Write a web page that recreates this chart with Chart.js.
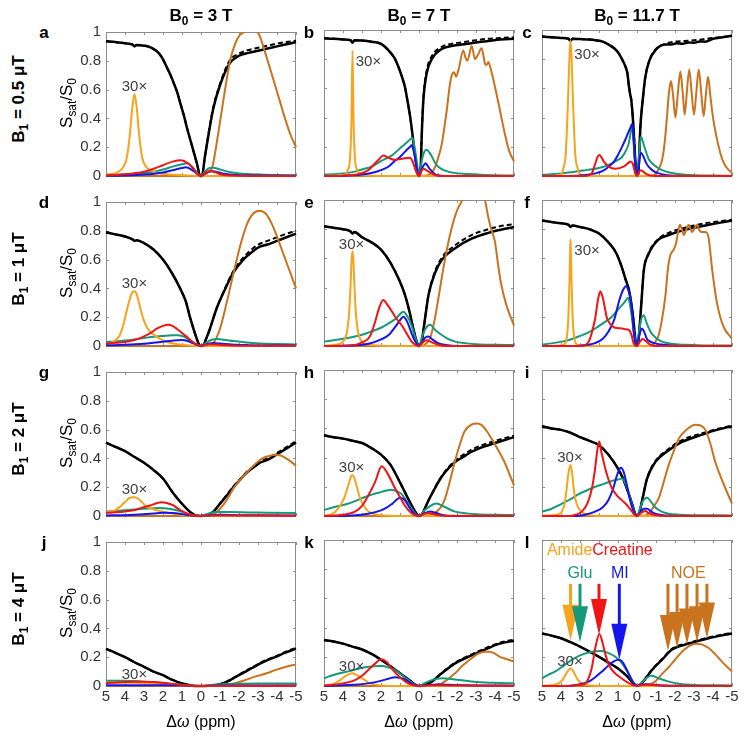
<!DOCTYPE html>
<html>
<head>
<meta charset="utf-8">
<script src="https://cdn.jsdelivr.net/npm/chart.js@4"></script>
<style>
body { margin: 0; background: #fff; width: 745px; height: 738px; position: relative; overflow: hidden;
       font-family: "Liberation Sans", Arial, Helvetica, sans-serif; }
canvas { position: absolute; }
.t { position: absolute; white-space: nowrap; color: #000; line-height: 1; }
.c { transform: translate(-50%, -50%); }
.r { transform: translate(-50%, -50%) rotate(-90deg); }
.b { font-weight: bold; }
sub { font-size: 70%; vertical-align: -0.35em; line-height: 0; }
</style>
</head>
<body>
<script>
// ---- data: [offset ppm, Ssat/S0] ----
// row 1 : B1 = 0.5 uT
const aZ = [[5,0.936],[4.5,0.93],[4,0.922],[3.6,0.912],[3.5,0.9],[3.4,0.91],[3,0.905],[2.6,0.89],[2.2,0.85],[2,0.81],[1.8,0.755],[1.6,0.7],[1.45,0.65],[1.25,0.58],[1.1,0.51],[0.9,0.42],[0.75,0.34],[0.55,0.245],[0.4,0.175],[0.2,0.08],[0.05,0],[-0.05,0],[-0.2,0.13],[-0.4,0.29],[-0.65,0.47],[-1,0.63],[-1.5,0.78],[-2,0.835],[-2.5,0.855],[-3,0.87],[-3.5,0.885],[-4,0.9],[-4.5,0.915],[-5,0.93]];
const aD = [[5,0.936],[4.5,0.93],[4,0.922],[3.6,0.912],[3.5,0.9],[3.4,0.91],[3,0.905],[2.6,0.89],[2.2,0.85],[2,0.81],[1.8,0.755],[1.6,0.7],[1.45,0.65],[1.25,0.58],[1.1,0.51],[0.9,0.42],[0.75,0.34],[0.55,0.245],[0.4,0.175],[0.2,0.08],[0.05,0],[-0.05,0],[-0.2,0.13],[-0.4,0.3],[-0.65,0.48],[-1,0.64],[-1.5,0.8],[-2,0.85],[-2.5,0.875],[-3,0.89],[-3.5,0.905],[-4,0.92],[-4.5,0.93],[-5,0.94]];
const aAmide = [[5,0.01],[4.5,0.02],[4.1,0.06],[3.9,0.13],[3.75,0.28],[3.62,0.47],[3.5,0.57],[3.38,0.47],[3.25,0.28],[3.1,0.13],[2.86,0.06],[2.5,0.03],[2,0.015],[1,0.005],[0,0],[-5,0]];
const aGlu = [[5,0.008],[4,0.012],[3,0.02],[2.5,0.03],[2,0.045],[1.5,0.065],[1,0.082],[0.75,0.088],[0.5,0.07],[0.25,0.03],[0,0],[-0.2,0.03],[-0.45,0.055],[-0.65,0.057],[-1,0.045],[-1.5,0.028],[-2,0.018],[-3,0.01],[-4,0.007],[-5,0.005]];
const aCr = [[5,0.005],[4,0.012],[3,0.03],[2.5,0.05],[2,0.075],[1.5,0.1],[1.05,0.11],[0.7,0.09],[0.4,0.05],[0.2,0.015],[0,0],[-0.2,0.02],[-0.45,0.035],[-0.7,0.03],[-1,0.012],[-1.5,0.004],[-5,0]];
const aMI = [[5,0.002],[4,0.004],[3,0.01],[2,0.025],[1.5,0.04],[1,0.055],[0.8,0.06],[0.5,0.045],[0.25,0.02],[0,0],[-0.25,0.02],[-0.55,0.033],[-0.8,0.03],[-1.2,0.015],[-2,0.006],[-3,0.003],[-5,0.001]];
const aNOE = [[5,0],[0,0],[-0.2,0.01],[-0.4,0.03],[-0.6,0.065],[-0.9,0.29],[-1.17,0.52],[-1.53,0.8],[-1.8,0.92],[-2.05,0.98],[-2.3,1.0],[-2.6,1.02],[-2.9,1.01],[-3.1,0.97],[-3.37,0.86],[-3.65,0.74],[-3.9,0.63],[-4.15,0.52],[-4.42,0.4],[-4.7,0.29],[-5,0.2]];

const bZ = [[5,0.943],[4.5,0.94],[4,0.935],[3.6,0.93],[3.5,0.912],[3.4,0.93],[3,0.928],[2.5,0.92],[2,0.905],[1.6,0.86],[1.3,0.81],[1.09,0.75],[0.9,0.68],[0.74,0.61],[0.6,0.51],[0.47,0.41],[0.35,0.29],[0.25,0.18],[0.12,0.06],[0.03,0],[-0.03,0],[-0.09,0.06],[-0.15,0.3],[-0.23,0.52],[-0.4,0.7],[-0.67,0.8],[-1.2,0.87],[-1.7,0.89],[-2.25,0.9],[-3,0.915],[-3.65,0.925],[-4.3,0.935],[-5,0.94]];
const bD = [[5,0.943],[4.5,0.94],[4,0.935],[3.6,0.93],[3.5,0.912],[3.4,0.93],[3,0.928],[2.5,0.92],[2,0.905],[1.6,0.86],[1.3,0.81],[1.09,0.75],[0.9,0.68],[0.74,0.61],[0.6,0.51],[0.47,0.41],[0.35,0.29],[0.25,0.18],[0.12,0.06],[0.03,0],[-0.03,0],[-0.09,0.06],[-0.15,0.3],[-0.23,0.53],[-0.4,0.72],[-0.67,0.82],[-1.2,0.885],[-1.7,0.905],[-2.25,0.915],[-3,0.93],[-3.65,0.94],[-4.3,0.945],[-5,0.95]];
const bAmide = [[5,0],[4.2,0.004],[3.9,0.01],[3.75,0.04],[3.63,0.12],[3.56,0.35],[3.5,0.86],[3.44,0.35],[3.37,0.12],[3.25,0.04],[3.1,0.01],[2.8,0.004],[2,0],[-5,0]];
const bGlu = [[5,0.01],[4.5,0.012],[4,0.018],[3.37,0.03],[3,0.045],[2.5,0.064],[1.96,0.105],[1.44,0.14],[0.91,0.2],[0.6,0.235],[0.47,0.25],[0.35,0.26],[0.21,0.18],[0.1,0.08],[0.04,0.02],[0,0],[-0.06,0.03],[-0.14,0.1],[-0.26,0.16],[-0.4,0.18],[-0.58,0.155],[-0.93,0.075],[-1.54,0.03],[-2.6,0.014],[-3.5,0.007],[-5,0.003]];
const bCr = [[5,0],[4,0.002],[3.37,0.008],[2.67,0.04],[2.4,0.075],[2.14,0.11],[1.87,0.14],[1.61,0.125],[1.26,0.11],[0.82,0.12],[0.47,0.125],[0.3,0.087],[0.15,0.03],[0,0],[-0.12,0.03],[-0.23,0.05],[-0.5,0.03],[-0.84,0.007],[-1.2,0],[-5,0]];
const bMI = [[5,0],[4.2,0],[3.8,0.003],[3,0.01],[2.5,0.02],[2,0.04],[1.6,0.065],[1.26,0.105],[1,0.13],[0.82,0.155],[0.6,0.185],[0.47,0.2],[0.39,0.21],[0.3,0.18],[0.21,0.13],[0.1,0.04],[0,0],[-0.12,0.04],[-0.23,0.07],[-0.35,0.087],[-0.45,0.07],[-0.58,0.046],[-0.93,0.007],[-1.5,0],[-5,0]];
const bNOE = [[5,0],[0,0],[-0.4,0.003],[-0.65,0.02],[-0.84,0.06],[-1.0,0.12],[-1.2,0.22],[-1.46,0.45],[-1.63,0.63],[-1.75,0.7],[-1.85,0.71],[-1.95,0.68],[-2.1,0.74],[-2.33,0.86],[-2.45,0.81],[-2.55,0.79],[-2.77,0.89],[-2.95,0.8],[-3.1,0.83],[-3.3,0.875],[-3.47,0.77],[-3.55,0.76],[-3.65,0.78],[-3.8,0.72],[-4.0,0.61],[-4.26,0.45],[-4.5,0.3],[-4.75,0.17],[-5,0.1]];

const cZ = [[5,0.955],[4.5,0.95],[4,0.945],[3.6,0.94],[3.5,0.925],[3.4,0.94],[3,0.938],[2.5,0.935],[2.19,0.93],[1.8,0.92],[1.49,0.9],[1.2,0.875],[0.96,0.84],[0.75,0.79],[0.61,0.75],[0.5,0.7],[0.44,0.63],[0.36,0.56],[0.3,0.52],[0.21,0.38],[0.12,0.18],[0.04,0.007],[0,0],[-0.05,0.005],[-0.09,0.06],[-0.18,0.34],[-0.3,0.52],[-0.44,0.68],[-0.65,0.79],[-0.96,0.86],[-1.49,0.9],[-1.8,0.9],[-2.1,0.91],[-2.4,0.905],[-2.7,0.915],[-3.0,0.912],[-3.3,0.922],[-3.6,0.92],[-4,0.94],[-4.5,0.95],[-5,0.96]];
const cD = [[5,0.955],[4.5,0.95],[4,0.945],[3.6,0.94],[3.5,0.925],[3.4,0.94],[3,0.938],[2.5,0.935],[2.19,0.93],[1.8,0.92],[1.49,0.9],[1.2,0.875],[0.96,0.84],[0.75,0.79],[0.61,0.75],[0.5,0.7],[0.44,0.63],[0.36,0.56],[0.3,0.52],[0.21,0.38],[0.12,0.18],[0.04,0.007],[0,0],[-0.05,0.005],[-0.09,0.06],[-0.18,0.34],[-0.3,0.52],[-0.44,0.68],[-0.65,0.79],[-0.96,0.865],[-1.49,0.905],[-2,0.92],[-2.5,0.925],[-3,0.93],[-3.5,0.937],[-4,0.945],[-4.5,0.952],[-5,0.96]];
const cAmide = [[5,0],[4.2,0.002],[3.95,0.02],[3.86,0.06],[3.75,0.15],[3.63,0.52],[3.56,0.8],[3.5,0.93],[3.44,0.8],[3.37,0.52],[3.25,0.15],[3.14,0.06],[3.05,0.02],[2.8,0.002],[2.5,0],[-5,0]];
const cGlu = [[5,0.007],[4.5,0.012],[3.95,0.018],[3.5,0.025],[3.07,0.034],[2.6,0.042],[2.19,0.05],[1.8,0.062],[1.32,0.087],[1,0.11],[0.79,0.13],[0.6,0.17],[0.44,0.22],[0.33,0.3],[0.26,0.35],[0.2,0.28],[0.09,0.064],[0,0],[-0.07,0.08],[-0.14,0.2],[-0.21,0.27],[-0.3,0.24],[-0.44,0.18],[-0.6,0.12],[-0.79,0.087],[-1.05,0.06],[-1.32,0.04],[-1.7,0.024],[-2.19,0.014],[-3,0.006],[-4,0.003],[-5,0.002]];
const cCr = [[5,0],[2.8,0],[2.5,0.008],[2.37,0.02],[2.19,0.087],[2.08,0.13],[1.98,0.144],[1.86,0.125],[1.75,0.1],[1.49,0.064],[1.14,0.05],[0.7,0.064],[0.45,0.09],[0.35,0.1],[0.23,0.087],[0.09,0.018],[0,0],[-0.1,0.025],[-0.21,0.04],[-0.32,0.03],[-0.44,0.018],[-0.7,0.003],[-1,0],[-5,0]];
const cMI = [[5,0],[3.8,0],[3.25,0.002],[2.6,0.008],[2.19,0.018],[1.8,0.035],[1.49,0.064],[1.2,0.1],[0.96,0.155],[0.75,0.21],[0.61,0.25],[0.45,0.3],[0.35,0.33],[0.26,0.356],[0.18,0.25],[0.09,0.064],[0,0],[-0.09,0.064],[-0.15,0.13],[-0.21,0.16],[-0.35,0.13],[-0.48,0.09],[-0.61,0.064],[-0.85,0.035],[-1.14,0.018],[-1.6,0.005],[-2.2,0],[-5,0]];
const cNOE = [[5,0],[0,0],[-0.7,0],[-0.93,0.01],[-1.15,0.05],[-1.32,0.11],[-1.45,0.22],[-1.58,0.41],[-1.68,0.57],[-1.79,0.65],[-1.9,0.55],[-2.02,0.4],[-2.14,0.55],[-2.28,0.715],[-2.4,0.58],[-2.51,0.42],[-2.62,0.57],[-2.75,0.73],[-2.87,0.58],[-3.0,0.42],[-3.12,0.57],[-3.25,0.73],[-3.38,0.57],[-3.51,0.41],[-3.62,0.55],[-3.74,0.68],[-3.86,0.55],[-4.0,0.4],[-4.15,0.29],[-4.3,0.2],[-4.5,0.11],[-4.7,0.06],[-5,0.02]];

// row 2 : B1 = 1 uT
const dZ = [[5,0.79],[4.5,0.775],[4,0.76],[3.6,0.74],[3.5,0.73],[3.4,0.735],[3,0.715],[2.5,0.67],[2,0.6],[1.5,0.5],[1.1,0.4],[0.8,0.31],[0.58,0.2],[0.3,0.08],[0.08,0.005],[0,0],[-0.12,0.005],[-0.3,0.06],[-0.47,0.12],[-0.82,0.26],[-1.18,0.37],[-1.7,0.51],[-2.23,0.6],[-2.75,0.66],[-3.1,0.69],[-3.5,0.705],[-3.9,0.725],[-4.4,0.75],[-5,0.78]];
const dD = [[5,0.79],[4.5,0.775],[4,0.76],[3.6,0.74],[3.5,0.73],[3.4,0.735],[3,0.715],[2.5,0.67],[2,0.6],[1.5,0.5],[1.1,0.4],[0.8,0.31],[0.58,0.2],[0.3,0.08],[0.08,0.005],[0,0],[-0.12,0.005],[-0.3,0.06],[-0.47,0.12],[-0.82,0.26],[-1.18,0.375],[-1.7,0.52],[-2.23,0.615],[-2.75,0.68],[-3.1,0.71],[-3.5,0.73],[-3.9,0.75],[-4.4,0.775],[-5,0.8]];
const dAmide = [[5,0.01],[4.6,0.03],[4.3,0.07],[4.1,0.14],[3.9,0.25],[3.74,0.33],[3.6,0.375],[3.5,0.38],[3.4,0.365],[3.3,0.32],[3.15,0.24],[3.04,0.19],[2.85,0.13],[2.68,0.1],[2.4,0.07],[2.16,0.05],[1.8,0.03],[1.46,0.018],[1,0.008],[0.5,0.002],[0,0],[-5,0]];
const dGlu = [[5,0.028],[4.5,0.032],[4,0.038],[3.5,0.046],[3,0.055],[2.5,0.064],[2,0.07],[1.5,0.075],[1.2,0.074],[0.9,0.065],[0.58,0.04],[0.3,0.015],[0,0],[-0.3,0.025],[-0.6,0.045],[-0.82,0.048],[-1.2,0.043],[-1.7,0.034],[-2.4,0.024],[-3.1,0.018],[-4,0.014],[-5,0.011]];
const dCr = [[5,0.018],[4.5,0.022],[4,0.028],[3.56,0.04],[3.2,0.055],[2.86,0.075],[2.6,0.095],[2.33,0.12],[2,0.14],[1.72,0.148],[1.5,0.14],[1.28,0.12],[1,0.09],[0.75,0.064],[0.5,0.035],[0.32,0.018],[0,0],[-0.4,0.012],[-0.8,0.01],[-1.5,0.004],[-5,0.001]];
const dMI = [[5,0.005],[4,0.008],[3,0.015],[2.5,0.022],[2,0.03],[1.5,0.037],[1,0.041],[0.7,0.035],[0.4,0.018],[0,0],[-0.3,0.012],[-0.65,0.02],[-1,0.017],[-1.6,0.01],[-2.5,0.006],[-5,0.003]];
const dNOE = [[5,0],[0,0],[-0.3,0.002],[-0.65,0.02],[-1.0,0.12],[-1.35,0.3],[-1.7,0.5],[-2.05,0.69],[-2.4,0.84],[-2.75,0.92],[-3.1,0.94],[-3.4,0.92],[-3.72,0.85],[-4.0,0.76],[-4.25,0.67],[-4.5,0.58],[-4.78,0.48],[-5,0.4]];

const eZ = [[5,0.82],[4.5,0.81],[4,0.8],[3.6,0.785],[3.5,0.77],[3.4,0.78],[3,0.745],[2.5,0.71],[2,0.66],[1.5,0.57],[1,0.44],[0.74,0.35],[0.5,0.235],[0.3,0.12],[0.12,0.03],[0,0],[-0.05,0.002],[-0.14,0.03],[-0.32,0.19],[-0.5,0.35],[-0.84,0.5],[-1.2,0.59],[-1.9,0.67],[-2.77,0.735],[-3.65,0.775],[-4.26,0.795],[-5,0.815]];
const eD = [[5,0.82],[4.5,0.81],[4,0.8],[3.6,0.785],[3.5,0.77],[3.4,0.78],[3,0.745],[2.5,0.71],[2,0.66],[1.5,0.57],[1,0.44],[0.74,0.35],[0.5,0.235],[0.3,0.12],[0.12,0.03],[0,0],[-0.05,0.002],[-0.14,0.03],[-0.32,0.19],[-0.5,0.35],[-0.84,0.51],[-1.2,0.605],[-1.9,0.69],[-2.77,0.76],[-3.65,0.8],[-4.26,0.82],[-5,0.835]];
const eAmide = [[5,0.002],[4.4,0.008],[4.0,0.03],[3.8,0.09],[3.68,0.22],[3.6,0.42],[3.55,0.58],[3.5,0.65],[3.45,0.58],[3.4,0.42],[3.32,0.22],[3.2,0.09],[3.0,0.03],[2.6,0.008],[2,0.002],[0,0],[-5,0]];
const eGlu = [[5,0.03],[4.5,0.04],[4,0.05],[3.37,0.065],[3,0.077],[2.5,0.1],[2,0.125],[1.6,0.155],[1.2,0.19],[0.95,0.225],[0.82,0.235],[0.6,0.2],[0.39,0.14],[0.2,0.06],[0,0],[-0.15,0.06],[-0.35,0.12],[-0.58,0.145],[-0.85,0.11],[-1.2,0.075],[-1.5,0.05],[-1.9,0.03],[-2.5,0.018],[-3,0.012],[-4,0.008],[-5,0.006]];
const eCr = [[5,0],[4,0.002],[3.37,0.007],[3,0.025],[2.67,0.05],[2.5,0.09],[2.3,0.17],[2.1,0.26],[1.88,0.315],[1.65,0.28],[1.44,0.24],[1.2,0.19],[0.9,0.14],[0.6,0.075],[0.39,0.03],[0.15,0.005],[0,0],[-0.2,0.025],[-0.4,0.04],[-0.6,0.03],[-1,0.008],[-1.5,0],[-5,0]];
const eMI = [[5,0],[4,0.001],[3,0.008],[2.5,0.02],[2,0.045],[1.6,0.075],[1.2,0.14],[0.95,0.185],[0.82,0.2],[0.6,0.16],[0.39,0.087],[0.2,0.03],[0,0],[-0.2,0.035],[-0.35,0.06],[-0.5,0.065],[-0.7,0.045],[-1,0.02],[-1.5,0.005],[-2,0],[-5,0]];
const eNOE = [[5,0],[0,0],[-0.15,0.001],[-0.4,0.02],[-0.6,0.06],[-0.84,0.19],[-1.05,0.35],[-1.28,0.53],[-1.63,0.76],[-1.98,0.92],[-2.33,1.01],[-2.7,1.08],[-3.0,1.1],[-3.3,1.05],[-3.47,1.0],[-3.65,0.88],[-3.8,0.8],[-3.99,0.72],[-4.15,0.57],[-4.3,0.44],[-4.6,0.28],[-5,0.14]];

const fZ = [[5,0.86],[4.5,0.85],[4,0.84],[3.6,0.83],[3.5,0.815],[3.4,0.825],[3,0.815],[2.5,0.8],[2,0.77],[1.5,0.71],[1.2,0.66],[1,0.61],[0.8,0.54],[0.61,0.46],[0.4,0.37],[0.2,0.19],[0.09,0.05],[0,0],[-0.05,0.01],[-0.12,0.1],[-0.26,0.35],[-0.35,0.51],[-0.61,0.63],[-1.14,0.73],[-1.67,0.76],[-2.37,0.79],[-3,0.81],[-3.77,0.83],[-4.4,0.845],[-5,0.86]];
const fD = [[5,0.86],[4.5,0.85],[4,0.84],[3.6,0.83],[3.5,0.815],[3.4,0.825],[3,0.815],[2.5,0.8],[2,0.77],[1.5,0.71],[1.2,0.66],[1,0.61],[0.8,0.54],[0.61,0.46],[0.4,0.37],[0.2,0.19],[0.09,0.05],[0,0],[-0.05,0.01],[-0.12,0.1],[-0.26,0.35],[-0.35,0.51],[-0.61,0.635],[-1.14,0.735],[-1.67,0.775],[-2.37,0.805],[-3,0.825],[-3.77,0.845],[-4.4,0.855],[-5,0.865]];
const fAmide = [[5,0],[4.2,0.002],[3.85,0.01],[3.72,0.04],[3.62,0.18],[3.56,0.42],[3.52,0.65],[3.5,0.73],[3.48,0.65],[3.44,0.42],[3.38,0.18],[3.28,0.04],[3.15,0.01],[2.8,0.002],[2,0],[-5,0]];
const fGlu = [[5,0.01],[4.5,0.018],[3.95,0.03],[3.5,0.045],[3.07,0.065],[2.6,0.09],[2.2,0.12],[1.8,0.155],[1.32,0.2],[1,0.25],[0.79,0.28],[0.6,0.31],[0.47,0.33],[0.35,0.27],[0.2,0.13],[0.08,0.03],[0,0],[-0.1,0.09],[-0.2,0.17],[-0.35,0.21],[-0.5,0.16],[-0.7,0.1],[-1,0.055],[-1.32,0.03],[-1.8,0.015],[-2.5,0.008],[-3.5,0.004],[-5,0.003]];
const fCr = [[5,0],[3,0],[2.7,0.008],[2.54,0.03],[2.38,0.09],[2.2,0.19],[2.05,0.32],[1.93,0.375],[1.8,0.33],[1.66,0.24],[1.58,0.19],[1.4,0.15],[1.23,0.13],[1.0,0.122],[0.79,0.12],[0.6,0.115],[0.44,0.11],[0.3,0.08],[0.18,0.02],[0,0],[-0.15,0.03],[-0.3,0.048],[-0.45,0.035],[-0.7,0.01],[-1,0],[-5,0]];
const fMI = [[5,0],[3.2,0],[2.6,0.008],[2.2,0.02],[1.8,0.05],[1.5,0.1],[1.2,0.18],[0.96,0.3],[0.75,0.38],[0.58,0.41],[0.45,0.38],[0.35,0.33],[0.25,0.22],[0.18,0.1],[0.08,0.02],[0,0],[-0.1,0.06],[-0.18,0.1],[-0.26,0.12],[-0.4,0.09],[-0.52,0.05],[-0.7,0.03],[-0.96,0.018],[-1.4,0.008],[-2,0.002],[-2.2,0],[-5,0]];
const fNOE = [[5,0],[0,0],[-0.6,0],[-0.79,0.005],[-0.95,0.025],[-1.14,0.075],[-1.3,0.17],[-1.5,0.35],[-1.62,0.52],[-1.75,0.62],[-1.85,0.645],[-1.93,0.66],[-2.05,0.7],[-2.15,0.77],[-2.25,0.83],[-2.36,0.8],[-2.46,0.76],[-2.6,0.8],[-2.72,0.83],[-2.82,0.8],[-2.9,0.78],[-3.05,0.81],[-3.16,0.83],[-3.3,0.79],[-3.42,0.78],[-3.6,0.78],[-3.77,0.74],[-3.95,0.53],[-4.2,0.3],[-4.4,0.19],[-4.6,0.12],[-5,0.05]];

// row 3 : B1 = 2 uT
const gZ = [[5,0.51],[4.5,0.48],[4,0.45],[3.5,0.41],[3,0.37],[2.5,0.32],[2,0.26],[1.5,0.165],[1,0.085],[0.5,0.02],[0.25,0.003],[0,0],[-0.2,0.003],[-0.4,0.012],[-0.65,0.03],[-1,0.085],[-1.35,0.14],[-1.7,0.2],[-2.05,0.25],[-2.4,0.3],[-2.84,0.345],[-3.1,0.37],[-3.5,0.39],[-3.9,0.42],[-4.4,0.46],[-5,0.51]];
const gD = [[5,0.51],[4.5,0.48],[4,0.45],[3.5,0.41],[3,0.37],[2.5,0.32],[2,0.26],[1.5,0.165],[1,0.085],[0.5,0.02],[0.25,0.003],[0,0],[-0.2,0.003],[-0.4,0.012],[-0.65,0.03],[-1,0.087],[-1.35,0.145],[-1.7,0.205],[-2.05,0.255],[-2.4,0.305],[-2.84,0.35],[-3.1,0.375],[-3.5,0.4],[-3.9,0.43],[-4.4,0.47],[-5,0.52]];
const gAmide = [[5,0.025],[4.6,0.035],[4.3,0.06],[4.1,0.085],[3.9,0.11],[3.7,0.128],[3.5,0.13],[3.3,0.12],[3.1,0.095],[2.86,0.065],[2.5,0.048],[2.33,0.04],[2,0.03],[1.45,0.015],[1,0.007],[0.5,0.002],[0,0],[-5,0]];
const gGlu = [[5,0.03],[4.5,0.035],[4,0.04],[3.5,0.045],[3.03,0.05],[2.5,0.054],[2.16,0.055],[1.8,0.052],[1.28,0.04],[0.9,0.025],[0.5,0.008],[0,0],[-0.3,0.012],[-0.8,0.027],[-1.5,0.027],[-2.5,0.025],[-3.5,0.023],[-5,0.02]];
const gCr = [[5,0.022],[4.5,0.026],[4,0.032],[3.56,0.04],[3.1,0.058],[2.68,0.073],[2.3,0.09],[2.07,0.096],[1.8,0.09],[1.45,0.073],[1.2,0.05],[0.93,0.03],[0.6,0.01],[0.3,0.002],[0,0],[-0.5,0.004],[-1,0.004],[-5,0.002]];
const gMI = [[5,0.004],[4,0.006],[3,0.012],[2.5,0.017],[2,0.022],[1.5,0.02],[1,0.013],[0.5,0.004],[0,0],[-0.5,0.006],[-1,0.008],[-2,0.006],[-3,0.005],[-5,0.004]];
const gNOE = [[5,0],[0.3,0],[0,0],[-0.4,0.002],[-0.7,0.015],[-1.0,0.05],[-1.35,0.11],[-1.7,0.19],[-2.05,0.25],[-2.4,0.3],[-2.84,0.36],[-3.3,0.405],[-3.7,0.42],[-3.9,0.425],[-4.2,0.42],[-4.6,0.39],[-5,0.35]];

const hZ = [[5,0.553],[4.5,0.54],[4,0.53],[3.5,0.515],[3,0.5],[2.5,0.465],[2,0.42],[1.5,0.35],[1,0.23],[0.75,0.165],[0.5,0.1],[0.25,0.04],[0.05,0.002],[0,0],[-0.1,0.002],[-0.3,0.05],[-0.55,0.12],[-0.84,0.19],[-1.1,0.25],[-1.37,0.3],[-1.9,0.37],[-2.4,0.41],[-2.77,0.44],[-3.2,0.465],[-3.65,0.485],[-4.26,0.51],[-5,0.54]];
const hD = [[5,0.553],[4.5,0.54],[4,0.53],[3.5,0.515],[3,0.5],[2.5,0.465],[2,0.42],[1.5,0.35],[1,0.23],[0.75,0.165],[0.5,0.1],[0.25,0.04],[0.05,0.002],[0,0],[-0.1,0.002],[-0.3,0.05],[-0.55,0.12],[-0.84,0.195],[-1.1,0.255],[-1.37,0.305],[-1.9,0.38],[-2.4,0.425],[-2.77,0.455],[-3.2,0.48],[-3.65,0.5],[-4.26,0.525],[-5,0.55]];
const hAmide = [[5,0.003],[4.7,0.008],[4.42,0.027],[4.1,0.08],[3.89,0.14],[3.7,0.22],[3.58,0.27],[3.5,0.28],[3.4,0.26],[3.25,0.19],[3.1,0.12],[2.9,0.07],[2.74,0.04],[2.4,0.015],[2,0.005],[1,0],[-5,0]];
const hGlu = [[5,0.04],[4.5,0.06],[4,0.075],[3.72,0.085],[3.3,0.105],[2.84,0.13],[2.4,0.15],[1.96,0.165],[1.7,0.175],[1.44,0.18],[1.2,0.17],[0.91,0.15],[0.65,0.1],[0.39,0.05],[0.15,0.01],[0,0],[-0.3,0.04],[-0.6,0.07],[-0.93,0.085],[-1.3,0.065],[-1.9,0.03],[-2.5,0.018],[-3,0.012],[-4,0.008],[-5,0.006]];
const hCr = [[5,0],[4.5,0.003],[4,0.008],[3.37,0.03],[3,0.07],[2.67,0.14],[2.32,0.23],[1.96,0.34],[1.61,0.28],[1.26,0.19],[1,0.13],[0.74,0.07],[0.45,0.025],[0.2,0.005],[0,0],[-0.3,0.015],[-0.55,0.02],[-0.9,0.008],[-1.3,0.002],[-5,0]];
const hMI = [[5,0],[4.5,0],[3.5,0.004],[2.67,0.016],[2.2,0.03],[1.8,0.05],[1.4,0.085],[1.0,0.125],[0.75,0.11],[0.47,0.05],[0.2,0.01],[0,0],[-0.3,0.02],[-0.6,0.03],[-0.9,0.02],[-1.3,0.006],[-1.8,0],[-5,0]];
const hNOE = [[5,0],[0,0],[-0.5,0.003],[-0.93,0.03],[-1.2,0.07],[-1.37,0.12],[-1.65,0.25],[-1.9,0.38],[-2.15,0.49],[-2.4,0.58],[-2.75,0.625],[-3.1,0.633],[-3.4,0.61],[-3.65,0.565],[-4.0,0.49],[-4.26,0.43],[-4.5,0.37],[-4.75,0.29],[-5,0.21]];

const iZ = [[5,0.615],[4.5,0.6],[4,0.59],[3.5,0.57],[3,0.54],[2.5,0.515],[2,0.485],[1.5,0.42],[1,0.325],[0.75,0.26],[0.5,0.176],[0.25,0.08],[0.08,0.01],[0,0],[-0.1,0.01],[-0.26,0.1],[-0.53,0.256],[-0.96,0.37],[-1.67,0.45],[-2.37,0.507],[-3.42,0.557],[-4.2,0.59],[-5,0.615]];
const iD = [[5,0.615],[4.5,0.6],[4,0.59],[3.5,0.57],[3,0.54],[2.5,0.515],[2,0.485],[1.5,0.42],[1,0.325],[0.75,0.26],[0.5,0.176],[0.25,0.08],[0.08,0.01],[0,0],[-0.1,0.01],[-0.26,0.1],[-0.53,0.26],[-0.96,0.375],[-1.67,0.46],[-2.37,0.52],[-3.42,0.567],[-4.2,0.595],[-5,0.62]];
const iAmide = [[5,0.002],[4.4,0.006],[4.1,0.015],[3.95,0.03],[3.8,0.09],[3.7,0.19],[3.6,0.3],[3.5,0.35],[3.42,0.3],[3.33,0.19],[3.25,0.12],[3.1,0.06],[2.9,0.025],[2.6,0.008],[2.2,0.002],[1.5,0],[-5,0]];
const iGlu = [[5,0.03],[4.5,0.05],[3.95,0.085],[3.5,0.115],[3.07,0.15],[2.6,0.178],[2.2,0.2],[1.75,0.22],[1.32,0.24],[1.0,0.25],[0.79,0.256],[0.6,0.22],[0.44,0.16],[0.25,0.07],[0.1,0.015],[0,0],[-0.15,0.05],[-0.3,0.1],[-0.53,0.125],[-0.75,0.095],[-0.96,0.06],[-1.3,0.03],[-1.67,0.016],[-2.5,0.007],[-5,0.004]];
const iCr = [[5,0],[3.5,0],[3.2,0.01],[2.9,0.03],[2.6,0.09],[2.37,0.19],[2.2,0.33],[2.08,0.46],[1.98,0.51],[1.88,0.44],[1.77,0.38],[1.67,0.325],[1.5,0.25],[1.32,0.19],[1.05,0.14],[0.79,0.107],[0.5,0.07],[0.26,0.03],[0.1,0.005],[0,0],[-0.2,0.02],[-0.44,0.035],[-0.6,0.02],[-1,0.005],[-1.5,0],[-5,0]];
const iMI = [[5,0],[3.2,0],[2.7,0.01],[2.2,0.03],[1.8,0.06],[1.5,0.11],[1.25,0.19],[1.05,0.28],[0.9,0.325],[0.84,0.33],[0.7,0.3],[0.53,0.21],[0.4,0.13],[0.26,0.06],[0.1,0.01],[0,0],[-0.2,0.03],[-0.38,0.05],[-0.53,0.05],[-0.75,0.03],[-1.0,0.014],[-1.5,0.003],[-2,0],[-5,0]];
const iNOE = [[5,0],[0,0],[-0.44,0.003],[-0.7,0.03],[-0.9,0.07],[-1.14,0.12],[-1.4,0.23],[-1.67,0.35],[-1.95,0.45],[-2.2,0.53],[-2.6,0.59],[-3.07,0.625],[-3.35,0.62],[-3.6,0.59],[-3.85,0.5],[-4.12,0.37],[-4.4,0.27],[-4.65,0.19],[-5,0.085]];

// row 4 : B1 = 4 uT
const jZ = [[5,0.258],[4.5,0.23],[4,0.2],[3.5,0.165],[3,0.133],[2.5,0.1],[2,0.075],[1.5,0.042],[1,0.018],[0.5,0.004],[0.2,0],[-0.2,0],[-0.6,0.003],[-1,0.012],[-1.4,0.032],[-1.7,0.053],[-2.2,0.09],[-2.7,0.125],[-3.1,0.155],[-3.5,0.18],[-3.9,0.2],[-4.4,0.23],[-5,0.26]];
const jD = [[5,0.258],[4.5,0.23],[4,0.2],[3.5,0.165],[3,0.133],[2.5,0.1],[2,0.075],[1.5,0.042],[1,0.018],[0.5,0.004],[0.2,0],[-0.2,0],[-0.6,0.003],[-1,0.013],[-1.4,0.034],[-1.7,0.056],[-2.2,0.094],[-2.7,0.13],[-3.1,0.16],[-3.5,0.185],[-3.9,0.205],[-4.4,0.235],[-5,0.265]];
const jAmide = [[5,0.022],[4,0.023],[3.5,0.023],[3,0.02],[2.5,0.015],[2,0.01],[1.5,0.006],[1,0.003],[0.5,0.001],[0,0],[-5,0]];
const jGlu = [[5,0.037],[4,0.036],[3.5,0.034],[3,0.03],[2.5,0.025],[2,0.02],[1.5,0.014],[1,0.008],[0.5,0.003],[0,0],[-0.5,0.006],[-1,0.012],[-2,0.016],[-3,0.018],[-4,0.018],[-5,0.018]];
const jCr = [[5,0.02],[4.5,0.025],[4,0.028],[3.5,0.03],[3,0.03],[2.5,0.028],[2,0.022],[1.5,0.014],[1,0.007],[0.5,0.002],[0,0],[-5,0.001]];
const jMI = [[5,0.005],[3,0.006],[2,0.005],[1,0.003],[0,0],[-1,0.003],[-5,0.003]];
const jNOE = [[5,0],[0,0],[-0.5,0.001],[-1,0.005],[-1.7,0.015],[-2.3,0.04],[-2.84,0.065],[-3.1,0.075],[-3.5,0.09],[-3.9,0.11],[-4.4,0.13],[-5,0.15]];

const kZ = [[5,0.315],[4.5,0.305],[4,0.29],[3.5,0.27],[3,0.25],[2.5,0.22],[2,0.18],[1.5,0.135],[1,0.087],[0.5,0.04],[0.2,0.01],[0,0],[-0.3,0.005],[-0.67,0.03],[-1.2,0.087],[-1.9,0.155],[-2.77,0.21],[-3.65,0.26],[-4.26,0.29],[-5,0.31]];
const kD = [[5,0.315],[4.5,0.305],[4,0.29],[3.5,0.27],[3,0.25],[2.5,0.22],[2,0.18],[1.5,0.135],[1,0.087],[0.5,0.04],[0.2,0.01],[0,0],[-0.3,0.005],[-0.67,0.032],[-1.2,0.09],[-1.9,0.16],[-2.77,0.217],[-3.65,0.267],[-4.26,0.297],[-5,0.318]];
const kAmide = [[5,0.003],[4.7,0.007],[4.42,0.018],[4.1,0.045],[3.8,0.075],[3.5,0.087],[3.2,0.07],[2.84,0.04],[2.6,0.02],[2.2,0.007],[1.8,0.002],[1,0],[-5,0]];
const kGlu = [[5,0.053],[4.5,0.075],[4,0.092],[3.72,0.1],[3.3,0.115],[2.84,0.128],[2.4,0.135],[1.96,0.137],[1.6,0.127],[1.26,0.11],[0.9,0.075],[0.56,0.04],[0.25,0.012],[0,0],[-0.3,0.02],[-0.7,0.042],[-1.2,0.053],[-1.8,0.047],[-2.77,0.03],[-3.5,0.024],[-4.2,0.021],[-5,0.018]];
const kCr = [[5,0.004],[4.5,0.008],[4,0.018],[3.37,0.04],[3,0.07],[2.67,0.11],[2.3,0.155],[2.0,0.183],[1.7,0.165],[1.44,0.12],[1.2,0.085],[0.91,0.05],[0.6,0.02],[0.3,0.005],[0,0],[-0.5,0.004],[-1,0.005],[-2,0.003],[-5,0.001]];
const kMI = [[5,0],[4.5,0.001],[3.5,0.008],[2.67,0.018],[1.96,0.037],[1.6,0.05],[1.26,0.06],[1,0.057],[0.75,0.045],[0.56,0.03],[0.3,0.01],[0,0],[-0.4,0.006],[-1,0.01],[-2,0.006],[-3,0.004],[-5,0.002]];
const kNOE = [[5,0],[0,0],[-0.5,0.002],[-0.9,0.008],[-1.2,0.018],[-1.5,0.045],[-1.9,0.087],[-2.3,0.14],[-2.77,0.19],[-3.1,0.22],[-3.47,0.235],[-3.7,0.235],[-3.95,0.225],[-4.26,0.2],[-4.6,0.185],[-5,0.167]];

const lZ = [[5,0.36],[4.5,0.345],[4,0.327],[3.5,0.3],[3,0.27],[2.5,0.235],[2,0.2],[1.5,0.16],[1,0.12],[0.5,0.064],[0.2,0.02],[0,0],[-0.1,0.002],[-0.26,0.02],[-0.5,0.06],[-0.79,0.11],[-1.32,0.18],[-1.84,0.25],[-2.72,0.29],[-3.77,0.327],[-4.4,0.345],[-5,0.36]];
const lD = [[5,0.36],[4.5,0.345],[4,0.327],[3.5,0.3],[3,0.27],[2.5,0.235],[2,0.2],[1.5,0.16],[1,0.12],[0.5,0.064],[0.2,0.02],[0,0],[-0.1,0.002],[-0.26,0.02],[-0.5,0.062],[-0.79,0.113],[-1.32,0.185],[-1.84,0.255],[-2.72,0.295],[-3.77,0.332],[-4.4,0.35],[-5,0.363]];
const lAmide = [[5,0.002],[4.5,0.006],[4.1,0.02],[3.9,0.045],[3.77,0.075],[3.6,0.11],[3.5,0.12],[3.4,0.11],[3.25,0.075],[3.1,0.04],[2.9,0.018],[2.6,0.006],[2.2,0.002],[1.5,0],[-5,0]];
const lGlu = [[5,0.053],[4.7,0.075],[4.3,0.1],[3.85,0.14],[3.42,0.18],[3,0.21],[2.54,0.23],[2.2,0.238],[1.84,0.24],[1.5,0.225],[1.14,0.2],[0.85,0.165],[0.61,0.12],[0.35,0.06],[0.15,0.015],[0,0],[-0.3,0.03],[-0.55,0.06],[-0.79,0.07],[-1.1,0.055],[-1.67,0.03],[-2.2,0.015],[-3,0.007],[-5,0.004]];
const lCr = [[5,0],[3.5,0.002],[3,0.008],[2.72,0.018],[2.5,0.07],[2.37,0.13],[2.18,0.27],[1.98,0.356],[1.82,0.3],[1.67,0.22],[1.5,0.15],[1.32,0.11],[1.05,0.075],[0.79,0.05],[0.5,0.025],[0.2,0.005],[0,0],[-0.3,0.008],[-0.6,0.01],[-1,0.005],[-2,0],[-5,0]];
const lMI = [[5,0],[3.6,0],[3,0.012],[2.54,0.03],[2.2,0.06],[1.84,0.1],[1.5,0.14],[1.2,0.17],[0.96,0.18],[0.8,0.17],[0.61,0.13],[0.4,0.075],[0.2,0.025],[0,0],[-0.2,0.008],[-0.45,0.012],[-0.8,0.008],[-1.3,0.003],[-5,0]];
const lNOE = [[5,0],[0,0],[-0.5,0.003],[-0.75,0.015],[-0.96,0.03],[-1.3,0.08],[-1.67,0.13],[-2.0,0.18],[-2.37,0.235],[-2.7,0.27],[-3.07,0.29],[-3.4,0.285],[-3.77,0.26],[-4.1,0.22],[-4.47,0.167],[-4.75,0.13],[-5,0.1]];

// labels
const fieldLabels = ['3 T', '7 T', '11.7 T'];
const b1Labels = ['0.5 μT', '1 μT', '2 μT', '4 μT'];
const panelTags = ['a','b','c','d','e','f','g','h','i','j','k','l'];

// panel l annotation: arrow positions (ppm) and the value each arrow points at
const arrowPpm = [3.5, 3.0, 2.0, 0.93, -1.63, -2.11, -2.63, -3.16, -3.68];
const arrowTip = [0.31, 0.30, 0.35, 0.18, 0.24, 0.26, 0.285, 0.30, 0.325];

// ---- layout & style ----
const FONT = '"Liberation Sans", Arial, Helvetica, sans-serif';
const COL = { z: '#000000', amide: '#F8A31B', glu: '#16997B', cr: '#F01414', mi: '#1515EE', noe: '#C9731F' };
const arrowCol = [COL.amide, COL.glu, COL.cr, COL.mi, COL.noe, COL.noe, COL.noe, COL.noe, COL.noe];
const colLeft = [106, 324, 542];
const rowTop = [30, 200, 370, 540];
const plotW = 190, plotH = 146;
const padL = 50, padT = 12, padR = 12, padB = 28;

const panels = [
  [aZ, aD, aAmide, aGlu, aCr, aMI, aNOE, [3.5, 0.616]],
  [bZ, bD, bAmide, bGlu, bCr, bMI, bNOE, [2.66, 0.78]],
  [cZ, cD, cAmide, cGlu, cCr, cMI, cNOE, [2.63, 0.83]],
  [dZ, dD, dAmide, dGlu, dCr, dMI, dNOE, [3.5, 0.43]],
  [eZ, eD, eAmide, eGlu, eCr, eMI, eNOE, [3.55, 0.69]],
  [fZ, fD, fAmide, fGlu, fCr, fMI, fNOE, [2.63, 0.65]],
  [gZ, gD, gAmide, gGlu, gCr, gMI, gNOE, [3.5, 0.185]],
  [hZ, hD, hAmide, hGlu, hCr, hMI, hNOE, [3.55, 0.33]],
  [iZ, iD, iAmide, iGlu, iCr, iMI, iNOE, [3.53, 0.40]],
  [jZ, jD, jAmide, jGlu, jCr, jMI, jNOE, [3.5, 0.075]],
  [kZ, kD, kAmide, kGlu, kCr, kMI, kNOE, [3.55, 0.13]],
  [lZ, lD, lAmide, lGlu, lCr, lMI, lNOE, [3.53, 0.165]]
];

function line(arr, color, width, order, dash) {
  return {
    data: arr.map(([x, y]) => ({ x, y })),
    borderColor: color, borderWidth: width, borderDash: dash || [],
    pointRadius: 0, fill: false, order: order,
    cubicInterpolationMode: 'monotone',
    clip: { left: 1, right: 1, top: 0, bottom: 2 }
  };
}

// box + inward ticks, like the original axes
const frame = {
  id: 'frame',
  beforeDatasetsDraw(chart) {
    const { ctx, chartArea: a, scales: { x, y } } = chart;
    ctx.save();
    ctx.strokeStyle = '#8c8c8c';
    ctx.lineWidth = 1;
    ctx.strokeRect(a.left + 0.5, a.top + 0.5, a.width - 1, a.height - 1);
    ctx.beginPath();
    for (let v = -5; v <= 5; v++) {
      const px = Math.round(x.getPixelForValue(v)) + 0.5;
      ctx.moveTo(px, a.bottom); ctx.lineTo(px, a.bottom - 3);
      ctx.moveTo(px, a.top); ctx.lineTo(px, a.top + 3);
    }
    for (let v = 0; v <= 5; v++) {
      const py = Math.round(y.getPixelForValue(v / 5)) + 0.5;
      ctx.moveTo(a.left, py); ctx.lineTo(a.left + 3, py);
      ctx.moveTo(a.right, py); ctx.lineTo(a.right - 3, py);
    }
    ctx.stroke();
    ctx.restore();
  }
};

function decoPlugin(idx, tagAt) {
  return {
    id: 'deco' + idx,
    afterDatasetsDraw(chart) {
      const { ctx, scales: { x, y } } = chart;
      ctx.save();
      ctx.font = '15px ' + FONT;
      ctx.fillStyle = '#404040';
      ctx.textAlign = 'center';
      ctx.textBaseline = 'middle';
      ctx.fillText('30×', x.getPixelForValue(tagAt[0]), y.getPixelForValue(tagAt[1]));
      if (idx === 11) {
        // arrows
        for (let i = 0; i < arrowPpm.length; i++) {
          const px = x.getPixelForValue(arrowPpm[i]);
          const tip = y.getPixelForValue(arrowTip[i]);
          const top = y.getPixelForValue(0.70);
          const base = tip - 36;
          ctx.strokeStyle = arrowCol[i];
          ctx.fillStyle = arrowCol[i];
          ctx.lineWidth = 3;
          ctx.beginPath(); ctx.moveTo(px, top); ctx.lineTo(px, base + 1); ctx.stroke();
          ctx.beginPath();
          ctx.moveTo(px - 8, base); ctx.lineTo(px + 8, base); ctx.lineTo(px, tip); ctx.closePath();
          ctx.fill();
        }
        ctx.font = '16px ' + FONT;
        ctx.textAlign = 'left';
        const x0 = x.getPixelForValue(4.74), yTop = y.getPixelForValue(0.925);
        ctx.fillStyle = COL.amide; ctx.fillText('Amide', x0, yTop);
        const w = ctx.measureText('Amide').width;
        ctx.fillStyle = COL.cr; ctx.fillText('Creatine', x0 + w, yTop);
        ctx.textAlign = 'center';
        const y2 = y.getPixelForValue(0.77);
        ctx.fillStyle = COL.glu; ctx.fillText('Glu', x.getPixelForValue(3.0), y2);
        ctx.fillStyle = COL.mi; ctx.fillText('MI', x.getPixelForValue(0.9), y2);
        ctx.fillStyle = COL.noe; ctx.fillText('NOE', x.getPixelForValue(-2.7), y2);
      }
      ctx.restore();
    }
  };
}

panels.forEach((p, idx) => {
  const r = Math.floor(idx / 3), c = idx % 3;
  const cv = document.createElement('canvas');
  cv.width = plotW + padL + padR;
  cv.height = plotH + padT + padB;
  cv.style.left = (colLeft[c] - padL) + 'px';
  cv.style.top = (rowTop[r] - padT) + 'px';
  document.body.appendChild(cv);

  const [Z, D, amide, glu, cr, mi, noe, tagAt] = p;
  new Chart(cv, {
    type: 'line',
    data: {
      datasets: [
        line(Z, COL.z, 2.5, 10),
        line(D, COL.z, 2, 9, [5, 3]),
        line(noe, COL.noe, 2, 5),
        line(glu, COL.glu, 2, 4),
        line(amide, COL.amide, 2, 3),
        line(mi, COL.mi, 2, 2),
        line(cr, COL.cr, 2, 1)
      ]
    },
    options: {
      responsive: false, animation: false, devicePixelRatio: 1,
      layout: { padding: { top: padT, right: padR, left: 0, bottom: 0 } },
      plugins: { legend: { display: false }, tooltip: { enabled: false } },
      scales: {
        x: {
          type: 'linear', min: -5, max: 5, reverse: true,
          grid: { display: false, drawTicks: false }, border: { display: false },
          ticks: { display: r === 3, stepSize: 1, padding: 2, autoSkip: false, maxRotation: 0,
                   color: '#333', font: { size: 15, family: FONT } },
          afterFit: a => { a.height = padB; }
        },
        y: {
          min: 0, max: 1,
          grid: { display: false, drawTicks: false }, border: { display: false },
          ticks: { display: c === 0, stepSize: 0.2, padding: 5,
                   color: '#333', font: { size: 15, family: FONT },
                   callback: v => String(+v.toFixed(1)) },
          afterFit: a => { a.width = padL; }
        }
      }
    },
    plugins: [frame, decoPlugin(idx, tagAt)]
  });
});

// ---- text around the panels ----
function addText(html, cls, left, top, size) {
  const d = document.createElement('div');
  d.className = 't ' + cls;
  d.style.left = left + 'px';
  d.style.top = top + 'px';
  d.style.fontSize = size + 'px';
  d.innerHTML = html;
  document.body.appendChild(d);
}
fieldLabels.forEach((f, c) => addText('B<sub>0</sub> = ' + f, 'c b', colLeft[c] + plotW / 2, 15, 17));
b1Labels.forEach((b, r) => {
  const mid = rowTop[r] + plotH / 2;
  addText('B<sub>1</sub> = ' + b, 'r b', 18, mid - 4, 17);
  addText('S<sub>sat</sub>/S<sub>0</sub>', 'r', 66, mid, 17);
});
const tagX = [44, 309, 527];
panelTags.forEach((t, i) => addText(t, 'c b', tagX[i % 3], rowTop[Math.floor(i / 3)] + 2, 17));
colLeft.forEach(l => addText('Δ<i>ω</i> (ppm)', 'c', l + plotW / 2, 722, 16));
</script>
</body>
</html>
